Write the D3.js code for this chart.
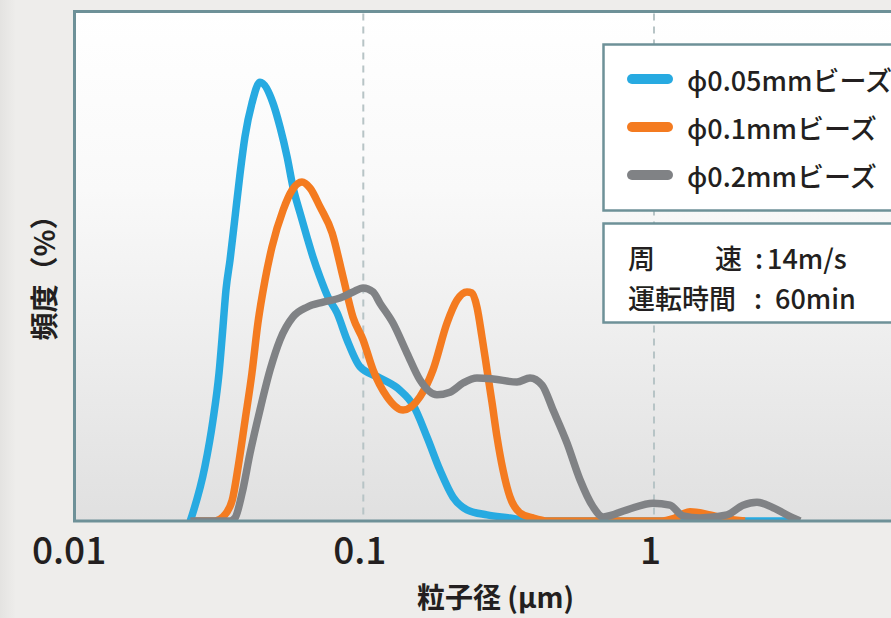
<meta charset="UTF-8">
<script src="https://d3js.org/d3.v7.min.js"></script>
<style>
  body { margin: 0; background: #eeedeb; }
  text { font-family: "Noto Sans CJK JP", "Noto Sans", sans-serif; fill: #231f20; }
</style>
<div id="my_dataviz"></div>
<script>

// particle size (um) / frequency (%)
const size005 = [0.0254, 0.0285, 0.0304, 0.0319, 0.0329, 0.0337, 0.0348, 0.0362, 0.0377, 0.0392, 0.0414, 0.0441, 0.0489, 0.0517, 0.0547, 0.0573, 0.0606, 0.0640, 0.0671, 0.0710, 0.0756, 0.0812, 0.0879, 0.0974, 0.1141, 0.1337, 0.1483, 0.1656, 0.1835, 0.2035, 0.2273, 0.2664, 0.3197, 0.3745, 3.01];
const freq005 = [0, 1.06, 1.98, 2.91, 3.81, 4.54, 5.13, 5.97, 6.84, 7.56, 8.21, 8.62, 8.21, 7.74, 7.15, 6.56, 6.05, 5.58, 5.19, 4.79, 4.40, 4.09, 3.56, 3.03, 2.81, 2.57, 2.28, 1.65, 1.00, 0.47, 0.22, 0.12, 0.06, 0, 0];

const size01 = [0.0264, 0.0309, 0.0329, 0.0354, 0.0371, 0.0392, 0.0414, 0.0434, 0.0459, 0.0485, 0.0530, 0.0569, 0.0615, 0.0656, 0.0710, 0.0781, 0.0852, 0.0922, 0.0998, 0.1080, 0.1207, 0.1370, 0.1567, 0.1737, 0.1941, 0.2101, 0.2273, 0.2365, 0.2461, 0.2561, 0.2664, 0.2773, 0.2884, 0.3024, 0.3197, 0.3459, 0.3836, 0.4318, 1.049, 1.181, 1.330, 1.558, 1.783, 2.056];
const freq01 = [0, 0, 0.08, 0.41, 1.06, 1.98, 2.91, 3.89, 4.73, 5.38, 6.11, 6.50, 6.66, 6.54, 6.17, 5.66, 4.79, 4.00, 3.56, 2.97, 2.44, 2.18, 2.44, 2.97, 3.89, 4.34, 4.50, 4.48, 4.20, 3.61, 2.97, 2.32, 1.65, 1.00, 0.47, 0.16, 0.06, 0, 0, 0.06, 0.18, 0.12, 0.04, 0];

const size02 = [0.0254, 0.0348, 0.0362, 0.0383, 0.0408, 0.0441, 0.0478, 0.0517, 0.0573, 0.0640, 0.0727, 0.0831, 0.0922, 0.0998, 0.1080, 0.1141, 0.1265, 0.1413, 0.1567, 0.1792, 0.1987, 0.2203, 0.2461, 0.2796, 0.3378, 0.3745, 0.4121, 0.4496, 0.5022, 0.5565, 0.6169, 0.6679, 0.8075, 0.9922, 1.135, 1.258, 1.439, 1.783, 2.025, 2.261, 2.568, 3.008, 3.180];
const freq02 = [0, 0, 0.06, 0.55, 1.34, 2.18, 2.97, 3.56, 4.01, 4.20, 4.30, 4.38, 4.50, 4.58, 4.50, 4.28, 3.89, 3.30, 2.77, 2.48, 2.53, 2.71, 2.81, 2.79, 2.73, 2.81, 2.67, 2.18, 1.53, 0.81, 0.28, 0.08, 0.22, 0.35, 0.31, 0.10, 0.06, 0.12, 0.31, 0.37, 0.26, 0.06, 0];

const seriesNames = ["ϕ0.05mmビーズ", "ϕ0.1mmビーズ", "ϕ0.2mmビーズ"];
const tickValues = [0.01, 0.1, 1];
const gridValues = [0.1, 1];
const infoKeys = ["周", "運転時間"];
const infoValues = ["14m/s", "60min"];

const colors = ["#27aae1", "#f47b20", "#808285"];
const frameColor = "#6e9198";

const width = 891, height = 618;
const plot = {left: 74.5, top: 11.5, bottom: 521};

const svg = d3.select("#my_dataviz")
  .append("svg")
    .attr("width", width)
    .attr("height", height);

const defs = svg.append("defs");
const grad = defs.append("linearGradient").attr("id", "plotbg")
    .attr("x1", 0).attr("y1", 0).attr("x2", 0).attr("y2", 1);
grad.append("stop").attr("offset", "0%").attr("stop-color", "#ffffff");
grad.append("stop").attr("offset", "35%").attr("stop-color", "#f9f9f9");
grad.append("stop").attr("offset", "100%").attr("stop-color", "#e0e0e0");

const shade = defs.append("linearGradient").attr("id", "leftshade")
    .attr("x1", 0).attr("y1", 0).attr("x2", 1).attr("y2", 0);
shade.append("stop").attr("offset", "0%").attr("stop-color", "#e4e3e1");
shade.append("stop").attr("offset", "100%").attr("stop-color", "#eeedeb");

defs.append("clipPath").attr("id", "plotclip")
  .append("rect")
    .attr("x", plot.left + 1.5).attr("y", plot.top + 1.5)
    .attr("width", 900).attr("height", plot.bottom - plot.top - 2);

svg.append("rect").attr("width", width).attr("height", height).attr("fill", "#eeedeb");
svg.append("rect").attr("width", 16).attr("height", height).attr("fill", "url(#leftshade)");

// scales
const x = d3.scaleLog().domain([0.01, 10]).range([72.6, 944.7]);
const y = d3.scaleLinear().domain([0, 10]).range([plot.bottom, 12]);

// plot background
svg.append("rect")
    .attr("x", plot.left).attr("y", plot.top)
    .attr("width", 900).attr("height", plot.bottom - plot.top)
    .attr("fill", "url(#plotbg)");

// dashed gridlines
svg.append("g")
  .selectAll("line")
  .data(gridValues)
  .enter()
  .append("line")
    .attr("x1", d => x(d)).attr("x2", d => x(d))
    .attr("y1", plot.top + 2).attr("y2", plot.bottom - 1)
    .attr("stroke", "#b7c4c6")
    .attr("stroke-width", 2)
    .attr("stroke-dasharray", "7,6");

// curves
const series = [
  {sizes: size005, freqs: freq005},
  {sizes: size01, freqs: freq01},
  {sizes: size02, freqs: freq02}
];

const line = d3.line()
    .x(d => x(d[0]))
    .y(d => y(d[1]))
    .curve(d3.curveMonotoneX);

svg.append("g")
    .attr("clip-path", "url(#plotclip)")
  .selectAll("path")
  .data(series)
  .enter()
  .append("path")
    .attr("fill", "none")
    .attr("stroke", (d, i) => colors[i])
    .attr("stroke-width", 7.5)
    .attr("stroke-linejoin", "round")
    .attr("d", d => line(d3.zip(d.sizes, d.freqs)));

// frame
svg.append("rect")
    .attr("x", plot.left).attr("y", plot.top)
    .attr("width", 900).attr("height", plot.bottom - plot.top)
    .attr("fill", "none")
    .attr("stroke", frameColor)
    .attr("stroke-width", 3);

// x axis labels
const xAxis = svg.append("g")
    .attr("transform", "translate(0," + plot.bottom + ")")
    .call(d3.axisBottom(x).tickValues(tickValues).tickFormat(d3.format("")).tickSize(0).tickPadding(17));
xAxis.select(".domain").remove();
xAxis.selectAll("text")
    .attr("dx", -4)
    .style("font-family", '"Noto Sans CJK JP", sans-serif')
    .style("font-size", "37px")
    .style("font-weight", 500)
    .attr("fill", "#231f20");

// axis titles
svg.append("text")
    .attr("x", 417).attr("y", 596)
    .attr("dominant-baseline", "central")
    .style("font-size", "28px")
    .style("font-weight", "bold")
    .text("粒子径 (μm)");

svg.append("text")
    .attr("transform", "translate(43,271) rotate(-90)")
    .attr("text-anchor", "middle")
    .attr("dominant-baseline", "central")
    .style("font-size", "28px")
    .style("font-weight", "bold")
    .text("頻度（%）");

// legend box
const legend = svg.append("g");
legend.append("rect")
    .attr("x", 603.5).attr("y", 44.5)
    .attr("width", 400).attr("height", 166)
    .attr("fill", "#ffffff")
    .attr("stroke", frameColor)
    .attr("stroke-width", 2.5);

const rows = legend.selectAll("g.item")
  .data(seriesNames)
  .enter()
  .append("g")
    .attr("class", "item")
    .attr("transform", (d, i) => "translate(0," + (79 + i * 48) + ")");
rows.append("line")
    .attr("x1", 632).attr("x2", 668)
    .attr("stroke", (d, i) => colors[i])
    .attr("stroke-width", 10)
    .attr("stroke-linecap", "round");
rows.append("text")
    .attr("x", 687)
    .attr("dominant-baseline", "central")
    .style("font-size", "27px")
    .style("font-weight", 500)
    .text(d => d);

// condition box
const info = svg.append("g");
info.append("rect")
    .attr("x", 603.5).attr("y", 223.5)
    .attr("width", 400).attr("height", 99)
    .attr("fill", "#ffffff")
    .attr("stroke", frameColor)
    .attr("stroke-width", 2.5);

const infoY = [257, 297];
info.append("text").attr("x", 628).attr("y", infoY[0]).attr("dominant-baseline", "central")
    .style("font-size", "27px").style("font-weight", 500).text(infoKeys[0]);
info.append("text").attr("x", 715).attr("y", infoY[0]).attr("dominant-baseline", "central")
    .style("font-size", "27px").style("font-weight", 500).text("速");
info.append("text").attr("x", 628).attr("y", infoY[1]).attr("dominant-baseline", "central")
    .style("font-size", "27px").style("font-weight", 500).text(infoKeys[1]);
info.selectAll("text.colon")
  .data(infoY)
  .enter()
  .append("text")
    .attr("class", "colon")
    .attr("x", (d, i) => i === 0 ? 759 : 758)
    .attr("y", d => d)
    .attr("text-anchor", "middle")
    .attr("dominant-baseline", "central")
    .style("font-size", "27px").style("font-weight", 500)
    .text(":");
info.selectAll("text.val")
  .data(infoValues)
  .enter()
  .append("text")
    .attr("class", "val")
    .attr("x", (d, i) => i === 0 ? 767 : 775)
    .attr("y", (d, i) => infoY[i])
    .attr("dominant-baseline", "central")
    .style("font-size", "27px").style("font-weight", 500)
    .text(d => d);

</script>
